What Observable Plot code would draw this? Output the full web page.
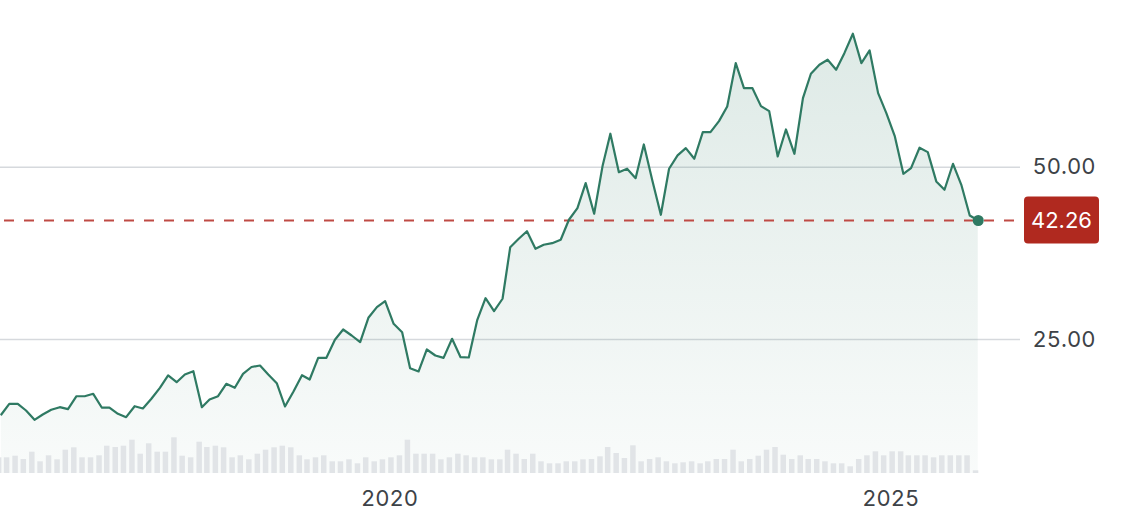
<!DOCTYPE html>
<html><head><meta charset="utf-8">
<script src="https://cdn.jsdelivr.net/npm/d3@7"></script>
<script src="https://cdn.jsdelivr.net/npm/@observablehq/plot@0.6"></script>
<style>
html,body{margin:0;padding:0;background:#fff;}
#chart{width:1134px;height:526px;overflow:hidden;}
</style></head><body><div id="chart"></div>
<script>
// Monthly observations, first one mid-February 2016
const startDate = "2016-02-16";
const closes = [
14.12,15.67,15.67,14.70,13.35,14.12,14.80,15.18,14.89,16.77,
16.77,17.12,15.13,15.13,14.22,13.73,15.32,14.99,16.40,17.99,
19.78,18.80,19.92,20.40,15.18,16.29,16.77,18.57,17.99,20.02,
21.01,21.23,19.92,18.66,15.28,17.46,19.82,19.20,22.34,22.34,
24.96,26.45,25.58,24.61,28.15,29.69,30.56,27.28,26.06,20.84,
20.36,23.55,22.68,22.34,25.10,22.43,22.39,27.86,30.99,29.11,
30.91,38.39,39.61,40.71,38.16,38.74,38.97,39.47,42.37,44.05,
47.68,43.24,50.25,54.85,49.27,49.77,48.40,53.29,48.07,43.09,
49.77,51.70,52.76,51.22,55.08,55.08,56.68,58.81,65.09,61.46,
61.46,58.85,58.13,51.55,55.47,51.94,60.01,63.55,64.86,65.58,
64.13,66.54,69.36,65.09,66.93,60.74,57.84,54.46,49.04,49.86,
52.82,52.18,47.93,46.72,50.49,47.35,42.99,42.26];
const volumes = [
15.7,15.7,17.3,14,21.3,11.7,17.7,13.7,23.3,25.7,
15.7,15.7,17.7,27.3,26,27.3,33.3,19.3,29.7,21.3,
21.3,35.7,17.3,15.7,31.3,26,27.3,25.7,15.7,17.7,
13.7,19.3,23.3,25.7,27.3,25.7,17.7,13.7,15.7,17.7,
11.7,11.7,13.7,9.7,15.7,11.7,13.7,15.7,17.7,33.3,
19.3,19.3,19.3,13.7,15.7,19.3,17.7,15.7,15.7,13.7,
13.7,23.3,19.3,14,19.3,11.7,9.7,9.7,11.7,11.7,
13.7,14,16.7,26,20,15,27.7,11.7,14,15.7,
11.7,9.7,10.7,11.7,9.7,11.7,14,14,23.3,11.7,
14,17.3,23.3,26,18.3,14,17.7,14,14,11.7,
9.7,9.7,6.7,14,17.7,21.7,17.7,21.7,21.7,17.7,
17.7,17.7,15.7,17.7,17.7,17.7,17.7,2.7];
const xTickDates = ["2020-01-01", "2025-01-01"];
const yTickValues = [25, 50];
const lastClose = 42.26;

const GREEN = "#2f7a63";
const Y_MIN = 5.56, Y_MAX = 72.0;
const VOL_K = 1 / 6.892; // price units per volume unit in the bottom band

const start = new Date(startDate);
const data = closes.map((c, i) => ({
  date: d3.utcMonth.offset(start, i),
  close: c,
  volume: volumes[i]
}));
const last = data[data.length - 1];

const ns = "http://www.w3.org/2000/svg";
const gradientDefs = () => {
  const defs = document.createElementNS(ns, "defs");
  const lg = document.createElementNS(ns, "linearGradient");
  lg.setAttribute("id", "areaFade");
  lg.setAttribute("x1", "0"); lg.setAttribute("y1", "0");
  lg.setAttribute("x2", "0"); lg.setAttribute("y2", "1");
  [[0, 0.16], [1, 0.03]].forEach(([o, a]) => {
    const s = document.createElementNS(ns, "stop");
    s.setAttribute("offset", o);
    s.setAttribute("stop-color", GREEN);
    s.setAttribute("stop-opacity", a);
    lg.appendChild(s);
  });
  defs.appendChild(lg);
  return defs;
};

const priceTag = (index, scales, values, dimensions) => {
  const yPix = scales.y(lastClose);
  const x0 = dimensions.width - dimensions.marginRight + 4;
  const g = document.createElementNS(ns, "g");
  const r = document.createElementNS(ns, "rect");
  r.setAttribute("x", x0); r.setAttribute("y", yPix - 23.5);
  r.setAttribute("width", 75); r.setAttribute("height", 47);
  r.setAttribute("rx", 4); r.setAttribute("fill", "#b0291f");
  g.appendChild(r);
  const t = document.createElementNS(ns, "text");
  t.setAttribute("x", x0 + 37.5); t.setAttribute("y", yPix);
  t.setAttribute("dy", "0.36em");
  t.setAttribute("text-anchor", "middle");
  t.setAttribute("fill", "#ffffff");
  t.setAttribute("font-size", "22");
  t.textContent = lastClose.toFixed(2);
  g.appendChild(t);
  return g;
};

const chart = Plot.plot({
  width: 1134,
  height: 526,
  marginLeft: 0,
  marginRight: 114,
  marginTop: 15,
  marginBottom: 53,
  style: {fontFamily: "Inter, 'Noto Sans', sans-serif", fontSize: "22px", color: "#3d4247", background: "#ffffff"},
  x: {type: "utc", domain: [new Date("2016-02-13"), new Date("2026-04-19")], label: null},
  y: {domain: [Y_MIN, Y_MAX], label: null},
  marks: [
    gradientDefs,
    Plot.gridY(yTickValues, {stroke: "#d6d9dd", strokeOpacity: 1, strokeWidth: 1.5}),
    Plot.areaY(data, {x: "date", y1: Y_MIN, y2: "close", fill: "url(#areaFade)"}),
    Plot.rect(data, {
      x1: d => d3.utcDay.offset(d.date, -18),
      x2: d => d3.utcDay.offset(d.date, 2),
      y1: Y_MIN,
      y2: d => Y_MIN + d.volume * VOL_K,
      fill: "#e1e4e7"
    }),
    Plot.ruleY([lastClose], {stroke: "#bf4a44", strokeWidth: 2, strokeDasharray: "10,10", strokeDashoffset: 16}),
    Plot.lineY(data, {x: "date", y: "close", stroke: GREEN, strokeWidth: 2.2, curve: "linear"}),
    Plot.dot([last], {x: "date", y: "close", r: 5.5, fill: GREEN}),
    Plot.axisX(xTickDates.map(d => new Date(d)), {tickSize: 0, tickPadding: 17, tickFormat: d3.utcFormat("%Y"), fontSize: 22, label: null}),
    Plot.axisY(yTickValues, {anchor: "right", tickSize: 0, tickPadding: 12, tickFormat: d3.format(".2f"), fontSize: 22, textAnchor: "start", label: null}),
    priceTag
  ]
});
document.getElementById("chart").appendChild(chart);
</script>
</body></html>
